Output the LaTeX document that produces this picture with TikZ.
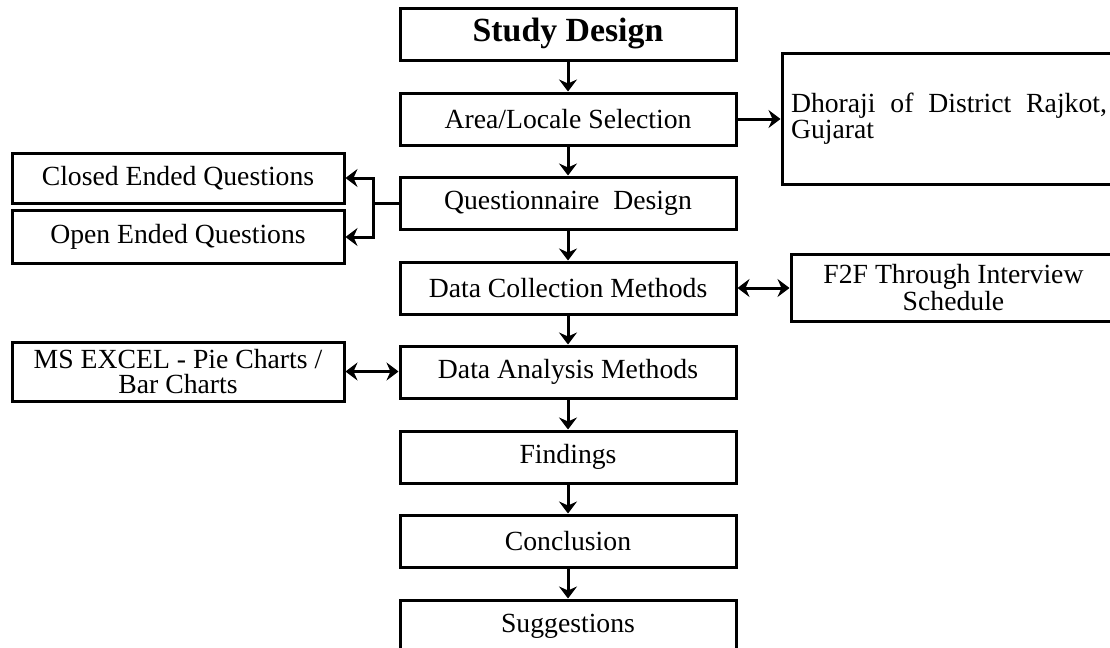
\documentclass[tikz,border=0pt]{standalone}
\usepackage{fontspec}
\setmainfont{Liberation Serif}
\usetikzlibrary{arrows.meta}

\begin{document}
\begin{tikzpicture}[x=0.5pt, y=-0.5pt, >={Stealth[length=6pt, width=9pt, inset=2pt]},
    stage/.style={draw, line width=1.5pt, minimum width=168pt, minimum height=26pt, inner sep=0pt,
        align=center, font=\fontsize{13.85pt}{12.5pt}\selectfont},
    side/.style={stage, minimum width=166pt},
    flow/.style={->, line width=1.5pt}]
    \useasboundingbox (0,0) rectangle (1110,648);

    % main column
    \node[stage, font=\fontsize{16.9pt}{18pt}\selectfont\bfseries] (study) at (568,34) {Study Design};
    \node[stage] (area) at (568,119) {Area/Locale Selection};
    \node[stage] (quest) at (568,203) {Questionnaire\ \ Design};
    \node[stage] (collect) at (568,288) {Data Collection Methods};
    \node[stage] (analysis) at (568,372) {Data Analysis Methods};
    \node[stage] (findings) at (568,457) {Findings};
    \node[stage] (concl) at (568,541) {Conclusion};
    \node[stage] (sugg) at (568,626) {Suggestions};

    % side boxes
    \node[side, minimum height=25pt] (closed) at (178,178) {Closed Ended Questions};
    \node[side, minimum height=26.5pt] (open) at (178,237) {Open Ended Questions};
    \node[side, minimum height=29.5pt] (excel) at (178,371.5) {MS EXCEL - Pie Charts /\\Bar Charts};
    \node[stage, minimum width=167pt, minimum height=65.5pt, text width=158pt, align=justify,
        font=\fontsize{13.85pt}{13pt}\selectfont] (place) at (949,118.5)
        {Dhoraji of District Rajkot, Gujarat};
    \node[stage, minimum width=162.5pt, minimum height=33.5pt] (f2f) at (953.5,287.5)
        {F2F Through Interview\\Schedule};

    \draw[flow] (study) -- (area);
    \draw[flow] (area) -- (quest);
    \draw[flow] (quest) -- (collect);
    \draw[flow] (collect) -- (analysis);
    \draw[flow] (analysis) -- (findings);
    \draw[flow] (findings) -- (concl);
    \draw[flow] (concl) -- (sugg);

    \draw[flow] (area.east) -- (area.east -| place.west);
    \draw[flow, <->] (collect.east) -- (collect.east -| f2f.west);
    \draw[flow, <->] (excel.east) -- (excel.east -| analysis.west);

    \coordinate (split) at (373,203);
    \draw[line width=1.5pt] (quest.west) -- (split);
    \draw[flow] (split) |- (closed.east);
    \draw[flow] (split) |- (open.east);
\end{tikzpicture}
\end{document}
